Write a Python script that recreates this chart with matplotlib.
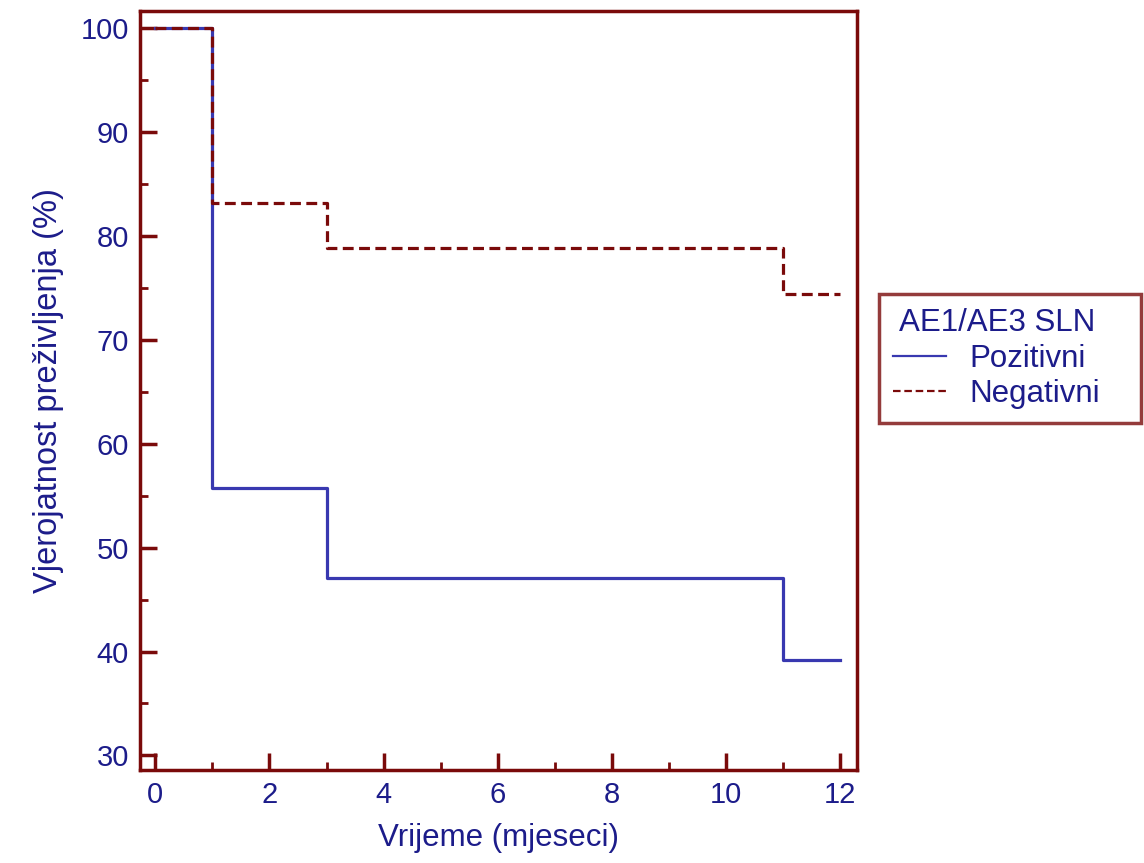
import matplotlib
matplotlib.use("Agg")
import matplotlib.pyplot as plt
from matplotlib.ticker import MultipleLocator

# Data
time_pos = [0, 1, 1, 3, 3, 11, 11, 12]
surv_pos = [100, 100, 55.7, 55.7, 47.1, 47.1, 39.2, 39.2]
time_neg = [0, 1, 1, 3, 3, 11, 11, 12]
surv_neg = [100, 100, 83.2, 83.2, 78.8, 78.8, 74.4, 74.4]
legend_title = "AE1/AE3 SLN"
labels = ["Pozitivni", "Negativni"]

blue_txt = "#1c1c8a"
blue_line = "#3838b0"
red = "#7a0a0a"

plt.rcParams['font.family'] = ['Liberation Sans', 'DejaVu Sans']
fig = plt.figure(figsize=(11.44, 8.63), dpi=100)
ax = fig.add_axes([0.1224, 0.1078, 0.6266, 0.880])

l1, = ax.plot(time_pos, surv_pos, color=blue_line, lw=2.3, label=labels[0])
l2, = ax.plot(time_neg, surv_neg, color=red, lw=2.3, ls=(0, (3.4, 1.7)), label=labels[1])

ax.set_xlim(-0.27, 12.3)
ax.set_ylim(28.6, 101.7)
ax.xaxis.set_major_locator(MultipleLocator(2))
ax.xaxis.set_minor_locator(MultipleLocator(1))
ax.yaxis.set_major_locator(MultipleLocator(10))
ax.yaxis.set_minor_locator(MultipleLocator(5))
ax.tick_params(which='major', direction='in', length=12, width=2.5, color=red,
               labelcolor=blue_txt, labelsize=21, pad=8)
ax.tick_params(which='minor', direction='in', length=6, width=2, color=red)
for s in ax.spines.values():
    s.set_color(red)
    s.set_linewidth(2.5)

ax.set_xlabel("Vrijeme (mjeseci)", color=blue_txt, fontsize=22.5, labelpad=10)
ax.set_ylabel("Vjerojatnost preživljenja (%)", color=blue_txt, fontsize=23.5, labelpad=12)

leg = fig.legend(handles=[l1, l2], labels=labels, title=legend_title,
                 loc='upper left', bbox_to_anchor=(0.7685, 0.5095, 0.229, 0.15),
                 mode='expand',
                 frameon=True, fancybox=False, edgecolor=red, fontsize=22.5,
                 title_fontsize=22.5, handlelength=1.7, alignment='left',
                 borderpad=0.45, labelspacing=0.18, handletextpad=0.75, borderaxespad=0)
leg.get_frame().set_linewidth(2.5)
leg.get_title().set_color(blue_txt)
leg.get_title().set_position((6, 0))
for t in leg.get_texts():
    t.set_color(blue_txt)
for h in leg.get_lines():
    h.set_linewidth(1.6)

fig.savefig("out.png", dpi=100)
